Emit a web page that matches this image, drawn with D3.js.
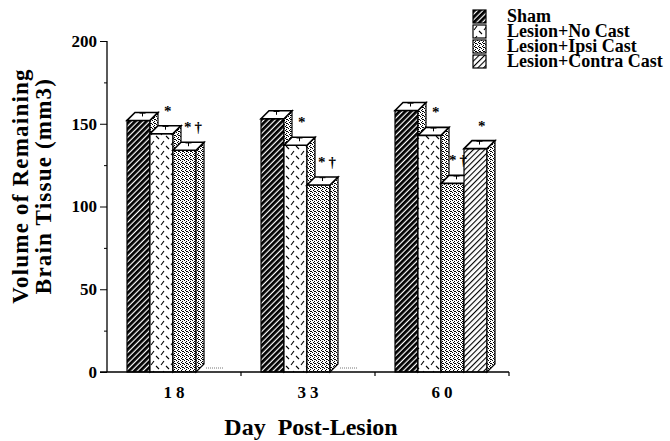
<!DOCTYPE html>
<html>
  <head>
    <meta charset="utf-8">
    <title>Remaining brain tissue</title>
    <style>
      body { margin: 0; background: #fff; }
      text { font-family: "Liberation Serif", "DejaVu Serif", serif; font-weight: bold; }
    </style>
  </head>
  <body>
    <script src="https://cdn.jsdelivr.net/npm/d3@7"></script>
    <script type="text/javascript">
      var days = ['18', '33', '60'];
      var series = ['Sham', 'Lesion+No Cast', 'Lesion+Ipsi Cast', 'Lesion+Contra Cast'];
      var sham = [152, 153, 158];
      var noCast = [144, 137, 143];
      var ipsiCast = [134, 113, 114];
      var contraCast = [0, 0, 135];
      var errSham = [2, 2, 2];
      var errNoCast = [2, 2, 2];
      var errIpsi = [2, 2, 2];
      var errContra = [0, 0, 2];
      var marksNoCast = ['*', '*', '*'];
      var marksIpsi = ['*\u2009\u2020', '*\u2009\u2020', '*\u2009\u2020'];
      var marksContra = ['', '', '*'];
      var yTicks = [0, 50, 100, 150, 200];
      var yMinor = [25, 75, 125, 175];

      var w = 670;
      var h = 441;
      var dx = 8, dy = 8;   // depth of the 3d bars

      var svg = d3.select('body').append('svg').attr('width', w).attr('height', h);

      // patterns
      var defs = svg.append('defs');
      function hatch(id, period, lw) {
        var p = defs.append('pattern').attr('id', id).attr('patternUnits', 'userSpaceOnUse')
          .attr('width', period).attr('height', period).attr('patternTransform', 'rotate(45)');
        p.append('rect').attr('width', period).attr('height', period).attr('fill', '#fff');
        p.append('rect').attr('width', lw).attr('height', period).attr('fill', '#000');
      }
      hatch('pSham', 4, 2.8);
      hatch('pContra', 4, 1.1);

      var st = defs.append('pattern').attr('id', 'pStip').attr('patternUnits', 'userSpaceOnUse')
        .attr('width', 4).attr('height', 4);
      st.append('rect').attr('width', 4).attr('height', 4).attr('fill', '#fff');
      [[0, 0], [2, 1], [1, 2], [3, 3], [2, 3]].forEach(function(d) {
        st.append('rect').attr('x', d[0]).attr('y', d[1]).attr('width', 1).attr('height', 1).attr('fill', '#000');
      });

      var dsh = defs.append('pattern').attr('id', 'pDash').attr('patternUnits', 'userSpaceOnUse')
        .attr('width', 10).attr('height', 10);
      dsh.append('rect').attr('width', 10).attr('height', 10).attr('fill', '#fff');
      dsh.append('path').attr('d', 'M1,5L4,1M6,6L9,9')
        .attr('stroke', '#000').attr('stroke-width', 1.1);

      var fills = ['url(#pSham)', 'url(#pDash)', 'url(#pStip)', 'url(#pContra)'];

      var y = d3.scaleLinear().domain([0, 200]).range([372, 41]);
      var x0 = d3.scaleBand().domain(days).range([107, 509]);
      var x1 = d3.scaleBand().domain(series).range([20, 112]);

      var values = [sham, noCast, ipsiCast, contraCast];
      var errs = [errSham, errNoCast, errIpsi, errContra];
      var marks = [null, marksNoCast, marksIpsi, marksContra];

      var bars = [];
      days.forEach(function(d, i) {
        series.forEach(function(s, j) {
          bars.push({ day: d, s: s, j: j, v: values[j][i], e: errs[j][i], m: marks[j] ? marks[j][i] : '' });
        });
      });

      var g = svg.append('g');
      var gm = svg.append('g');
      bars.forEach(function(b) {
        var xl = x0(b.day) + x1(b.s);
        var xr = xl + x1.bandwidth();
        var yt = y(b.v);
        var yb = y(0);
        var bg = g.append('g');
        if (b.v > 0) {
          bg.append('rect').attr('x', xl).attr('y', yt).attr('width', xr - xl).attr('height', yb - yt)
            .attr('fill', fills[b.j]).attr('stroke', '#000').attr('stroke-width', 1.2);
          bg.append('path')
            .attr('d', 'M' + xr + ',' + yt + 'L' + (xr + dx) + ',' + (yt - dy) + 'L' + (xr + dx) + ',' + (yb - dy) + 'L' + xr + ',' + yb + 'Z')
            .attr('fill', 'url(#pStip)').attr('stroke', '#000').attr('stroke-width', 1.2);
          bg.append('path')
            .attr('d', 'M' + xl + ',' + yt + 'L' + (xl + dx) + ',' + (yt - dy) + 'L' + (xr + dx) + ',' + (yt - dy) + 'L' + xr + ',' + yt + 'Z')
            .attr('fill', '#fff').attr('stroke', '#000').attr('stroke-width', 1.6);
          // error mark on the top face
          var cx = (xl + xr) / 2 + dx / 2;
          var cy = yt - dy / 2;
          var ye = y(b.v + b.e) - dy / 2;
          bg.append('path').attr('d', 'M' + cx + ',' + cy + 'L' + cx + ',' + ye + 'M' + (cx - 3) + ',' + ye + 'L' + (cx + 3) + ',' + ye)
            .attr('stroke', '#000').attr('stroke-width', 1);
        } else {
          // empty slot: only a faint trace on the floor
          bg.append('line').attr('x1', xl + dx + 2).attr('x2', xr + dx - 4)
            .attr('y1', yb - dy / 2).attr('y2', yb - dy / 2)
            .attr('stroke', '#777').attr('stroke-width', 1).attr('stroke-dasharray', '1,1');
        }
        if (b.m) {
          var off = b.m.length > 1 ? (b.day === '60' ? 15 : 12) : 9;
          gm.append('text').attr('x', xr - off).attr('y', yt - dy - 10)
            .attr('font-size', '15px').attr('font-weight', 'normal').text(b.m);
        }
      });
      gm.raise();

      // axes
      var yAxis = d3.axisLeft(y).tickValues(yTicks).tickSize(7).tickPadding(3);
      var ya = svg.append('g').attr('transform', 'translate(107,0)').call(yAxis);
      ya.select('.domain').remove();
      ya.selectAll('text').attr('font-size', '17px').attr('font-family', '"Liberation Serif", serif').attr('font-weight', 'bold');
      var ym = svg.append('g').attr('transform', 'translate(107,0)')
        .call(d3.axisLeft(y).tickValues(yMinor).tickSize(3).tickFormat(''));
      ym.select('.domain').remove();
      svg.append('line').attr('x1', 107).attr('x2', 107).attr('y1', y(200)).attr('y2', y(0))
        .attr('stroke', '#000').attr('stroke-width', 1.3);

      svg.append('line').attr('x1', 100).attr('x2', 509).attr('y1', y(0)).attr('y2', y(0))
        .attr('stroke', '#000').attr('stroke-width', 1.5);
      var xa = svg.append('g').attr('transform', 'translate(0,' + y(0) + ')')
        .call(d3.axisBottom(x0).tickSize(0).tickPadding(14));
      xa.select('.domain').remove();
      xa.selectAll('text').attr('font-size', '17px').attr('letter-spacing', '4px').attr('dx', '2px')
        .attr('font-family', '"Liberation Serif", serif').attr('font-weight', 'bold');
      svg.selectAll('.sep').data(days.slice(1).concat(['end'])).enter().append('line')
        .attr('x1', function(d) { return d === 'end' ? 509 : x0(d); })
        .attr('x2', function(d) { return d === 'end' ? 509 : x0(d); })
        .attr('y1', y(0)).attr('y2', y(0) + 4).attr('stroke', '#000').attr('stroke-width', 1.2);

      // titles
      svg.append('text').attr('x', 311).attr('y', 435).attr('text-anchor', 'middle')
        .attr('font-size', '24px').attr('word-spacing', '6px').text('Day Post-Lesion');
      var yt = svg.append('g').attr('transform', 'translate(0,186) rotate(-90)');
      yt.append('text').attr('x', 0).attr('y', 28).attr('text-anchor', 'middle')
        .attr('font-size', '23px').attr('letter-spacing', '1.2px').text('Volume of Remaining');
      yt.append('text').attr('x', 0).attr('y', 51).attr('text-anchor', 'middle')
        .attr('font-size', '23px').attr('letter-spacing', '1.2px').text('Brain Tissue (mm3)');

      // legend
      var lg = svg.append('g').selectAll('g').data(series).enter().append('g')
        .attr('transform', function(d, i) { return 'translate(473,' + (10 + i * 15) + ')'; });
      lg.append('rect').attr('width', 13).attr('height', 13)
        .attr('fill', function(d, i) { return fills[i]; }).attr('stroke', '#000').attr('stroke-width', 1.2);
      lg.append('text').attr('x', 34).attr('y', 12).attr('font-size', '18px').text(function(d) { return d; });
    </script>
  </body>
</html>
